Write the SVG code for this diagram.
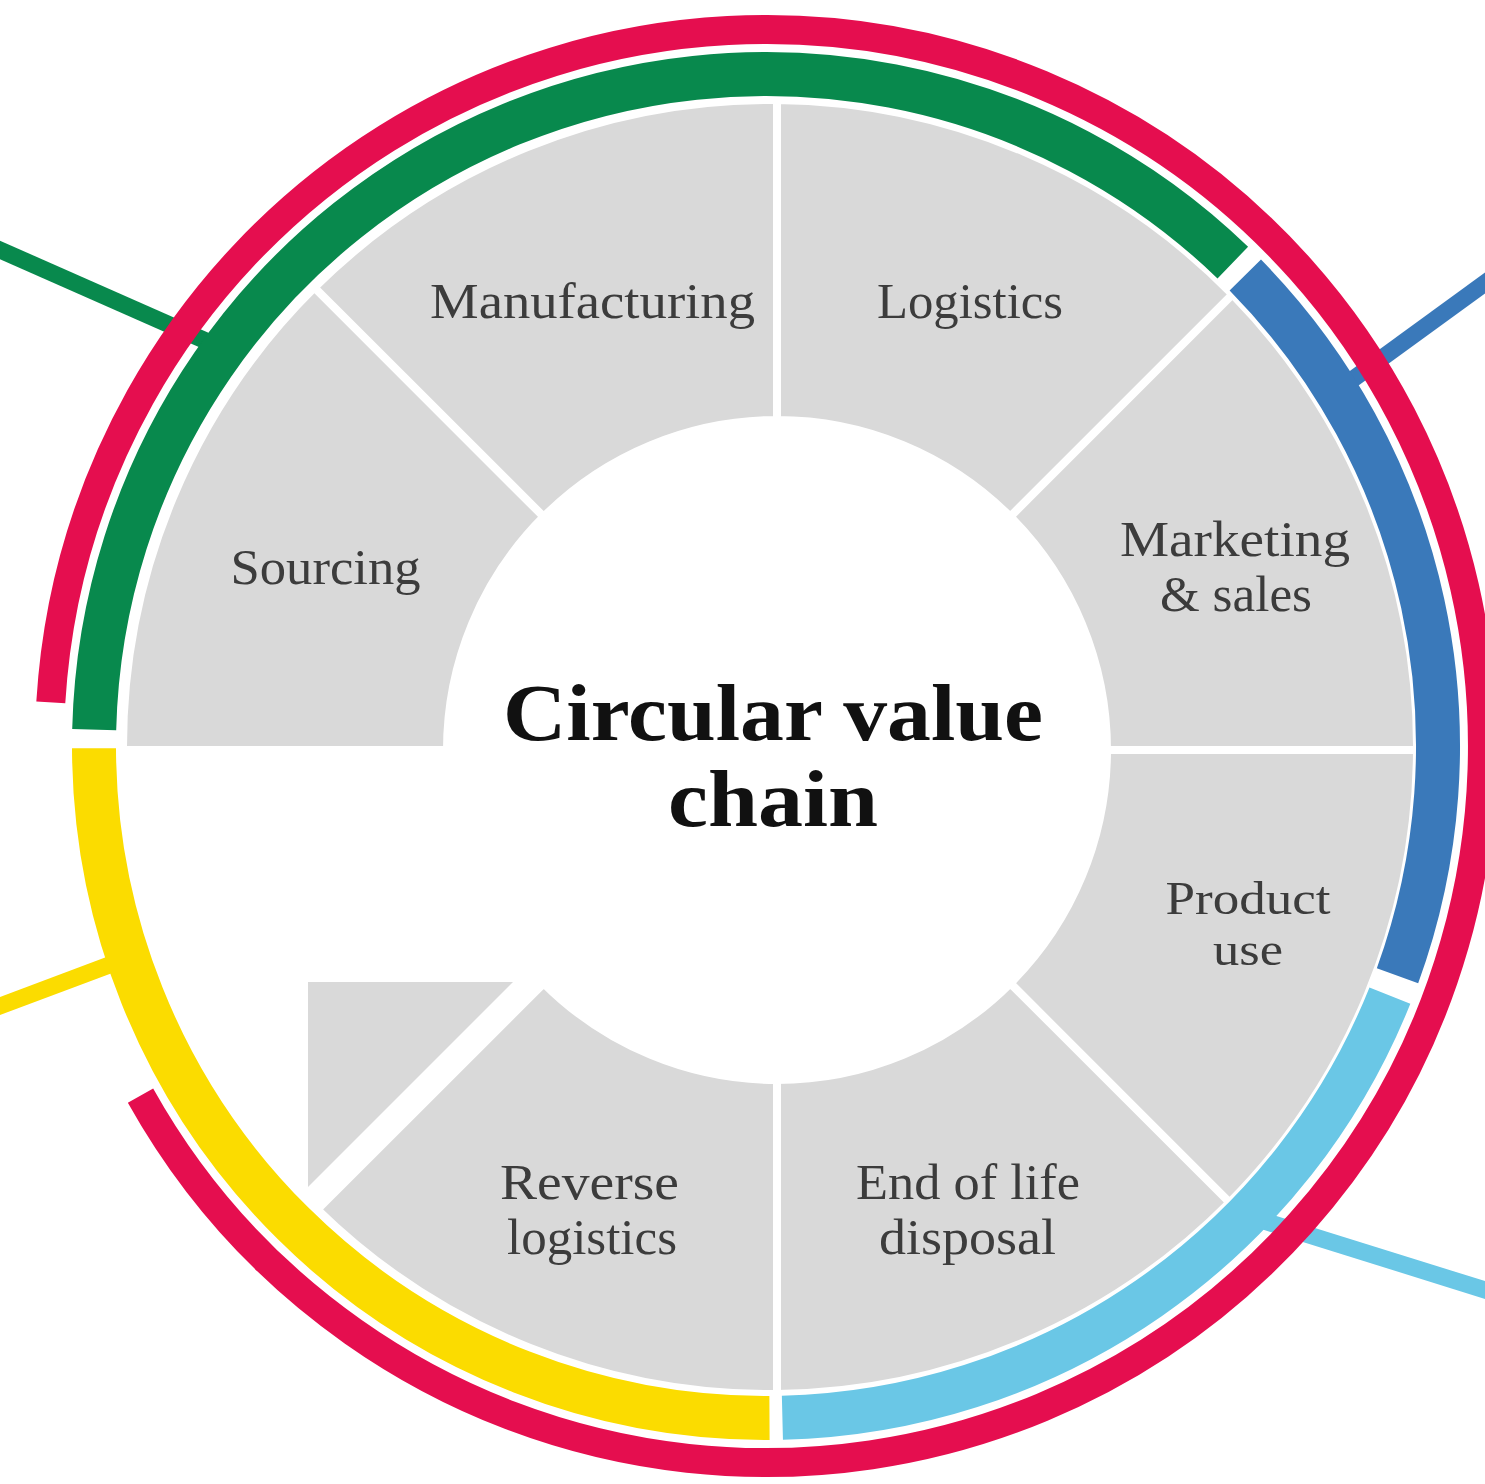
<svg xmlns="http://www.w3.org/2000/svg" width="1485" height="1484" viewBox="0 0 1485 1484">
  <style>
    .sector { fill: #d9d9d9; stroke: #ffffff; stroke-width: 8; stroke-linejoin: miter; }
    .lbl { font-family: "Liberation Serif", "DejaVu Serif", serif; font-size: 50px; fill: #3c3c3c; text-anchor: middle; }
    .lbl-s { font-size: 46px; }
    .title { font-family: "Liberation Serif", "DejaVu Serif", serif; font-size: 80px; font-weight: bold; fill: #111111; text-anchor: middle; }
    .arc { fill: none; stroke-linecap: butt; }
    .ring { stroke-width: 44; }
    .conn { stroke-width: 17; stroke-linecap: butt; fill: none; }
    .green { stroke: #08894d; }
    .blue { stroke: #3a79ba; }
    .lightblue { stroke: #6ac7e6; }
    .yellow { stroke: #fbdc00; }
    .red { stroke: #e50e4f; }
  </style>
  <rect x="0" y="0" width="1485" height="1484" fill="#ffffff"/>

  <!-- gray fragment in lower-left -->
  <polygon points="308,982 513,982 308,1187" fill="#d9d9d9"/>

  <g id="sector-sourcing">
    <path class="sector" d="M123,750 A647,647 0 0 1 314.5,287.5 L543.7,516.7 A330,330 0 0 0 447,750 Z"/>
    <text class="lbl" x="325.5" y="584" textLength="190" lengthAdjust="spacingAndGlyphs">Sourcing</text>
  </g>
  <g id="sector-manufacturing">
    <path class="sector" d="M314.5,287.5 A647,647 0 0 1 777,100 L777,420 A330,330 0 0 0 543.7,516.7 Z"/>
    <text class="lbl" x="592.5" y="318" textLength="325" lengthAdjust="spacingAndGlyphs">Manufacturing</text>
  </g>
  <g id="sector-logistics">
    <path class="sector" d="M777,100 A647,647 0 0 1 1232.5,294.5 L1010.3,516.7 A330,330 0 0 0 777,420 Z"/>
    <text class="lbl" x="970" y="318" textLength="186" lengthAdjust="spacingAndGlyphs">Logistics</text>
  </g>
  <g id="sector-marketing">
    <path class="sector" d="M1232.5,294.5 A647,647 0 0 1 1417,750 L1107,750 A330,330 0 0 0 1010.3,516.7 Z"/>
    <text class="lbl" x="1235" y="556" textLength="230" lengthAdjust="spacingAndGlyphs">Marketing</text>
    <text class="lbl" x="1236" y="611" textLength="152" lengthAdjust="spacingAndGlyphs">&amp; sales</text>
  </g>
  <g id="sector-product-use">
    <path class="sector" d="M1417,750 A647,647 0 0 1 1229.5,1202.5 L1010.3,983.3 A330,330 0 0 0 1107,750 Z"/>
    <text class="lbl lbl-s" x="1248" y="914" textLength="165" lengthAdjust="spacingAndGlyphs">Product</text>
    <text class="lbl lbl-s" x="1248" y="965" textLength="70" lengthAdjust="spacingAndGlyphs">use</text>
  </g>
  <g id="sector-end-of-life">
    <path class="sector" d="M1229.5,1202.5 A647,647 0 0 1 777,1394 L777,1080 A330,330 0 0 0 1010.3,983.3 Z"/>
    <text class="lbl" x="968" y="1199" textLength="224" lengthAdjust="spacingAndGlyphs">End of life</text>
    <text class="lbl" x="967.5" y="1254" textLength="177" lengthAdjust="spacingAndGlyphs">disposal</text>
  </g>
  <g id="sector-reverse-logistics">
    <path class="sector" d="M777,1394 A647,647 0 0 1 317.5,1209.5 L543.7,983.3 A330,330 0 0 0 777,1080 Z"/>
    <text class="lbl" x="589.5" y="1199" textLength="179" lengthAdjust="spacingAndGlyphs">Reverse</text>
    <text class="lbl" x="592" y="1254" textLength="170" lengthAdjust="spacingAndGlyphs">logistics</text>
  </g>

  <g id="center-title">
    <text class="title" x="773" y="740" textLength="540" lengthAdjust="spacingAndGlyphs">Circular value</text>
    <text class="title" x="773" y="826" textLength="210" lengthAdjust="spacingAndGlyphs">chain</text>
  </g>

  <g id="connectors">
    <line class="conn green" x1="-10" y1="245.6" x2="222" y2="348"/>
    <line class="conn blue" x1="1495" y1="275.7" x2="1338" y2="390"/>
    <line class="conn yellow" x1="-10" y1="1009.7" x2="128" y2="958"/>
    <line class="conn lightblue" x1="1495" y1="1293.1" x2="1248" y2="1216"/>
  </g>

  <g id="ring-segments">
    <path id="arc-green" class="arc ring green" d="M94.2,729.6 A672,672 0 0 1 1232.8,262.6"/>
    <path id="arc-blue" class="arc ring blue" d="M1245.3,275 A672,672 0 0 1 1397.5,975.8"/>
    <path id="arc-lightblue" class="arc ring lightblue" d="M1389.9,995.6 A672,672 0 0 1 782.4,1417.8"/>
    <path id="arc-yellow" class="arc ring yellow" d="M769.5,1418 A672,672 0 0 1 94,748.3"/>
  </g>

  <g id="outer-ring">
    <path id="arc-red" class="arc red" stroke-width="29" d="M50.8,702.3 A716.5,716.5 0 1 1 140.5,1095.6"/>
  </g>
</svg>
